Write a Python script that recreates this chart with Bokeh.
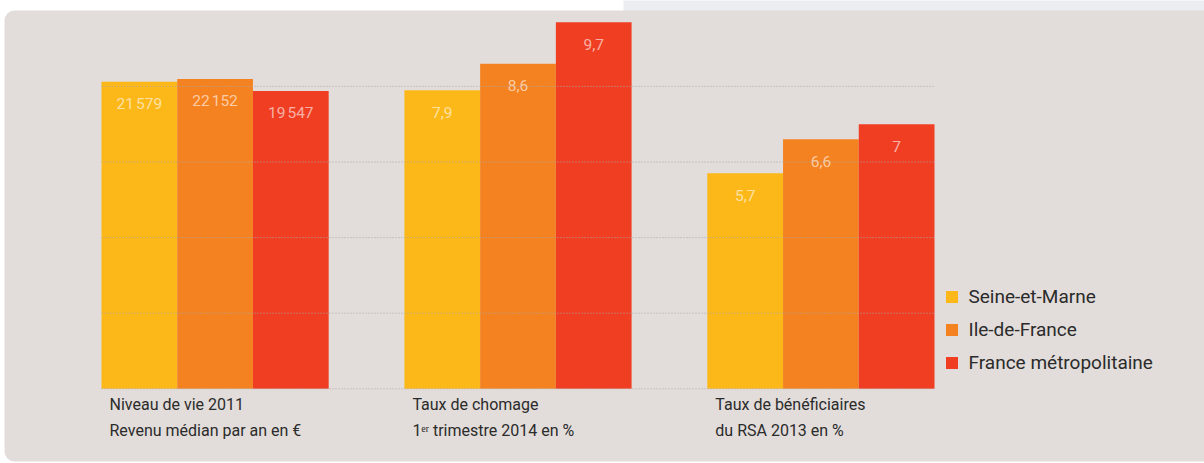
from bokeh.plotting import figure
from bokeh.models import (Range1d, ColumnDataSource, Legend, LegendItem, BoxAnnotation)
from bokeh.core.properties import value
from bokeh.embed import file_html
from bokeh.resources import INLINE

# ---- data ----
series = ["Seine-et-Marne", "Ile-de-France", "France métropolitaine"]
colors = ["#FCB719", "#F58220", "#F03E23"]
groups = ["Niveau de vie 2011\nRevenu médian par an en €",
          "Taux de chomage\n1ᵉʳ trimestre 2014 en %",
          "Taux de bénéficiaires\ndu RSA 2013 en %"]
income = [21579, 22152, 19547]          # group 1 (€)
chomage = [7.9, 8.6, 9.7]               # group 2 (%)
rsa = [5.7, 6.6, 7.0]                   # group 3 (%)
pct_ticks = [0, 2, 4, 6, 8]

PANEL = "#E2DDDA"
FONT = "Roboto"
W, H = 1204, 463

# ---- scales (layout only) ----
X_PX = 833 / 11.0
x_start = -0.5 - 101 / X_PX
x_end = 10.5 + (W - 934) / X_PX
Y_PX = 37.8
BASE = 388.3
y_start = -(H - BASE) / Y_PX
y_end = BASE / Y_PX
INC_PX = 0.004603
INC_ZERO = -45138
inc_start = INC_ZERO - (H - BASE) / INC_PX
inc_end = INC_ZERO + BASE / INC_PX


def fmt_inc(v):
    return f"{v:,}".replace(",", "\u202f")


def fmt_pct(v):
    return f"{v:g}".replace(".", ",")


def xpos(g, s):
    return g * (len(series) + 1) + s


p = figure(width=W, height=H, output_backend="svg", toolbar_location=None,
           x_range=Range1d(x_start, x_end), y_range=Range1d(y_start, y_end),
           min_border=0)
p.extra_y_ranges = {"inc": Range1d(inc_start, inc_end)}
p.xaxis.visible = False
p.yaxis.visible = False
p.xgrid.visible = False
p.ygrid.visible = False
p.background_fill_color = "white"
p.border_fill_color = "white"
p.outline_line_color = None

# page decoration: light strip at the top right and the rounded panel
p.add_layout(BoxAnnotation(left=623, right=W + 20, top=-10, bottom=14,
                           left_units="canvas", right_units="canvas",
                           top_units="canvas", bottom_units="canvas",
                           fill_color="#EBEDF0", fill_alpha=1, line_color=None,
                           border_radius=4, level="image"))
p.add_layout(BoxAnnotation(left=4, right=W + 20, top=10, bottom=461,
                           left_units="canvas", right_units="canvas",
                           top_units="canvas", bottom_units="canvas",
                           fill_color=PANEL, fill_alpha=1, line_color=None,
                           border_radius=10, level="image"))

legend_items = []
for i, s in enumerate(series):
    src_inc = ColumnDataSource(dict(x=[xpos(0, i)], top=[income[i]], bottom=[INC_ZERO],
                                    lab=[fmt_inc(income[i])]))
    p.vbar(x="x", top="top", bottom="bottom", width=1.0, source=src_inc,
           y_range_name="inc", fill_color=colors[i], line_color=None)
    p.text(x="x", y="top", text="lab", source=src_inc, y_range_name="inc",
           text_align="center", text_baseline="middle", y_offset=22,
           text_color="white", text_alpha=0.6, text_font=value(FONT), text_font_size="15.5px")
    src_pct = ColumnDataSource(dict(x=[xpos(1, i), xpos(2, i)], top=[chomage[i], rsa[i]],
                                    lab=[fmt_pct(chomage[i]), fmt_pct(rsa[i])]))
    r = p.vbar(x="x", top="top", width=1.0, source=src_pct,
               fill_color=colors[i], line_color=None)
    p.text(x="x", y="top", text="lab", source=src_pct,
           text_align="center", text_baseline="middle", y_offset=22,
           text_color="white", text_alpha=0.6, text_font=value(FONT), text_font_size="15.5px")
    legend_items.append(LegendItem(label=s, renderers=[r]))

# dotted grid lines across the bar area, drawn over the bars
x_lo = xpos(0, 0) - 0.5
x_hi = xpos(len(groups) - 1, len(series) - 1) + 0.5
p.segment(x0=[x_lo] * len(pct_ticks), x1=[x_hi] * len(pct_ticks), y0=pct_ticks, y1=pct_ticks,
          line_color="#ABA7A5", line_dash="1 2", line_width=1)

# group labels, left-aligned under each group
lab_src = ColumnDataSource(dict(x=[xpos(g, 0) - 0.5 for g in range(len(groups))],
                                y=[0] * len(groups), text=groups))
p.text(x="x", y="y", text="text", source=lab_src, x_offset=8, y_offset=6,
       text_align="left", text_baseline="top", text_color="#2B2B2B",
       text_font=value(FONT), text_font_size="16px", text_line_height=1.375)

legend = Legend(items=legend_items, location=(943.5, 89), orientation="vertical",
                glyph_width=15, glyph_height=15, label_height=20, spacing=10,
                label_standoff=10, padding=0, margin=0,
                border_line_color=None, background_fill_alpha=0,
                label_text_font=FONT, label_text_font_size="19px", label_text_color="#2B2B2B")
p.add_layout(legend)

open("out.html", "w").write(file_html(p, INLINE))
